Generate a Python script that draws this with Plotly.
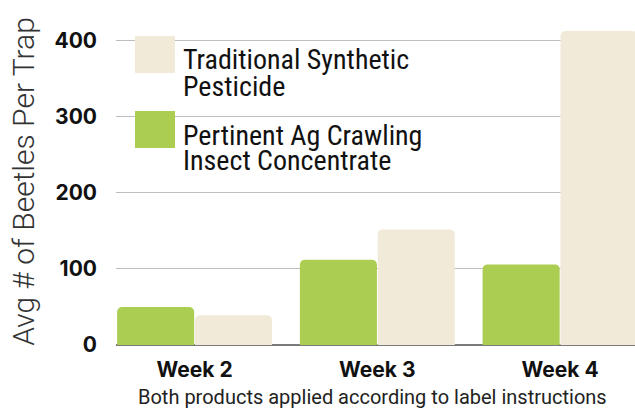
import plotly.graph_objects as go

weeks = ["Week 2", "Week 3", "Week 4"]
pertinent = [50, 112, 106]
traditional = [39, 152, 413]
y_ticks = [0, 100, 200, 300, 400]
legend_labels = {
    "Traditional": ["Traditional Synthetic", "Pesticide"],
    "Pertinent": ["Pertinent Ag Crawling", "Insect Concentrate"],
}
subtitle = "Both products applied according to label instructions"

GREEN = "#abcd52"
BEIGE = "#f1ead9"

W, H = 635, 408
ML, MR, MT, MB = 116, 0, 18, 63
PW, PH = W - ML - MR, H - MT - MB


def px(xp):
    return (xp - ML) / PW


def py(yp):
    return (H - MB - yp) / PH


xpos = list(range(len(weeks)))

fig = go.Figure()
fig.add_trace(go.Bar(x=xpos, y=pertinent, name="Pertinent",
                     marker=dict(color=GREEN, line=dict(width=0))))
fig.add_trace(go.Bar(x=xpos, y=traditional, name="Traditional",
                     marker=dict(color=BEIGE, line=dict(width=0))))

# custom legend (large swatches)
LEG_FONT = dict(family="Liberation Sans Narrow, Roboto Condensed, Roboto", size=28, color="#111")
swatches = [("Traditional", BEIGE, 36, [58.5, 85]), ("Pertinent", GREEN, 111, [134, 159])]
for key, col, top, line_centers in swatches:
    fig.add_shape(type="rect", xref="paper", yref="paper",
                  x0=px(135), x1=px(175), y0=py(top + 37), y1=py(top),
                  fillcolor=col, line=dict(width=0), layer="above")
    for txt, yc in zip(legend_labels[key], line_centers):
        fig.add_annotation(text=txt, xref="paper", yref="paper", x=px(181), y=py(yc + 1),
                           xanchor="left", yanchor="middle", showarrow=False, font=LEG_FONT)

fig.add_annotation(text=subtitle, xref="paper", yref="paper", x=px(372), y=py(397),
                   xanchor="center", yanchor="middle", showarrow=False,
                   font=dict(family="Roboto", size=20, color="#222"))

fig.update_layout(
    width=W, height=H,
    margin=dict(l=ML, r=MR, t=MT, b=MB, autoexpand=False),
    paper_bgcolor="white", plot_bgcolor="white",
    barmode="group", bargap=0.148, bargroupgap=0.01,
    barcornerradius=5,
    showlegend=False,
    xaxis=dict(range=[-0.43, 2.41], tickmode="array", tickvals=xpos, ticktext=weeks,
               automargin=False,
               showgrid=False, zeroline=False, showline=False, ticks="",
               ticklabelstandoff=10,
               tickfont=dict(family="Inter", size=21, color="#111", weight=700)),
    yaxis=dict(range=[0, 430], tickmode="array", tickvals=y_ticks, automargin=False,
               showgrid=True, gridcolor="#bdbdbd", gridwidth=1,
               zeroline=True, zerolinecolor="#7a7a7a", zerolinewidth=1.5,
               showline=False, ticks="", ticklabelstandoff=18,
               tickfont=dict(family="Inter", size=21, color="#111", weight=700),
               title=dict(text="Avg # of Beetles Per Trap",
                          font=dict(family="Roboto", size=30, color="#333", weight=300), standoff=10)),
)

fig.write_html("out.html", config={"displayModeBar": False},
               post_script="document.body.style.margin='0';document.body.style.overflow='hidden';")
